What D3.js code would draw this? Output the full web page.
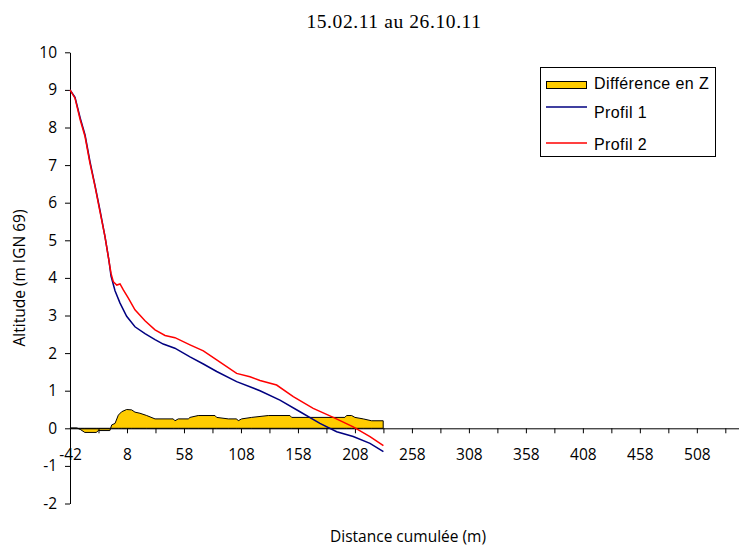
<!DOCTYPE html>
<html>
<head>
<meta charset="utf-8">
<script src="https://cdn.jsdelivr.net/npm/d3@7"></script>
<style>
  html, body { margin: 0; padding: 0; background: #fff; }
  svg { display: block; }
</style>
</head>
<body>
<svg id="chart" width="739" height="547"></svg>
<script>
// ---------- Data ----------
const chartTitle = "15.02.11 au 26.10.11";
const xAxisTitle = "Distance cumulée (m)";
const yAxisTitle = "Altitude (m IGN 69)";
const seriesNames = ["Différence en Z", "Profil 1", "Profil 2"];

const yTickValues = [-2, -1, 0, 1, 2, 3, 4, 5, 6, 7, 8, 9, 10];
const xTickLabels = [-42, 8, 58, 108, 158, 208, 258, 308, 358, 408, 458, 508];

// Profil 1 (blue)
const profil1Dist = [-42, -37.6, -33, -28.8, -24.5, -20, -15.7, -11.3, -8, -6, -2.5, 1.9, 7.7, 15, 23.8, 32.6, 39.8, 50, 63.3, 75, 86.7, 104.2, 124.7, 142.2, 159.8, 177.3, 192, 206.5, 221.2, 233];
const profil1Z    = [9.0, 8.8, 8.25, 7.8, 7.1, 6.45, 5.8, 5.1, 4.5, 4.05, 3.66, 3.33, 2.98, 2.7, 2.52, 2.36, 2.24, 2.13, 1.9, 1.71, 1.51, 1.24, 1.0, 0.75, 0.44, 0.13, -0.09, -0.22, -0.4, -0.62];

// Profil 2 (red)
const profil2Dist = [-42, -37.6, -33, -28.8, -24.5, -20, -15.7, -11.3, -8.4, -6, -4, -1, 1.9, 4.8, 9.2, 15, 23.8, 32.6, 41.4, 50.1, 63.3, 75, 86.7, 104.2, 115.9, 124.7, 139.3, 153.9, 171.4, 189, 206.5, 221.2, 233];
const profil2Z    = [9.0, 8.78, 8.2, 7.76, 7.05, 6.43, 5.76, 5.1, 4.56, 4.12, 3.9, 3.81, 3.84, 3.68, 3.46, 3.15, 2.86, 2.62, 2.47, 2.41, 2.22, 2.06, 1.82, 1.46, 1.37, 1.27, 1.15, 0.84, 0.53, 0.29, 0.04, -0.22, -0.46];

// Différence en Z (yellow area)
const diffDist = [-42, -36, -33, -29, -19, -17, -7, -5.4, -2.5, 0.4, 3.3, 7.7, 12.1, 15, 19.4, 25.3, 32.6, 48.6, 50.1, 53, 61.8, 63.3, 70.5, 85.2, 86.7, 96.9, 104.2, 105.6, 108.6, 117.4, 132, 151, 152.5, 199.2, 200.7, 205.1, 208, 215.3, 222.6, 232.8];
const diffZ    = [0.01, 0.01, -0.03, -0.11, -0.11, -0.06, -0.06, 0.09, 0.13, 0.35, 0.44, 0.5, 0.49, 0.43, 0.4, 0.34, 0.25, 0.25, 0.2, 0.25, 0.25, 0.29, 0.34, 0.34, 0.29, 0.25, 0.25, 0.2, 0.25, 0.29, 0.34, 0.34, 0.29, 0.29, 0.34, 0.34, 0.29, 0.25, 0.2, 0.2];

const colors = { diff: "#FFCC00", p1: "#000080", p2: "#FF0000" };

// ---------- Build ----------
const zip = (a, b) => a.map((d, i) => ({ d: d, z: b[i] }));
const p1 = zip(profil1Dist, profil1Z);
const p2 = zip(profil2Dist, profil2Z);
const diff = zip(diffDist, diffZ);

const svg = d3.select("#chart");
const x = d3.scaleLinear().domain([-42, 545]).range([70, 739]);
const y = d3.scaleLinear().domain([-2, 10]).range([503.5, 52.3]);

const tickFont = "'Open Sans', sans-serif";

// Title
svg.append("text")
  .attr("x", 394).attr("y", 27.5)
  .attr("text-anchor", "middle")
  .style("font-family", "'Liberation Serif', 'Times New Roman', serif")
  .style("font-size", "19.5px")
  .style("letter-spacing", "0.6px")
  .text(chartTitle);

// Area (difference)
const area = d3.area()
  .x(d => x(d.d))
  .y0(y(0))
  .y1(d => y(d.z));
svg.append("path")
  .datum(diff)
  .attr("d", area)
  .attr("fill", colors.diff)
  .attr("stroke", "#000")
  .attr("stroke-width", 1);

// Y axis
const yAxis = d3.axisLeft(y)
  .tickValues(yTickValues)
  .tickSize(5).tickSizeOuter(0).tickPadding(8)
  .tickFormat(d => String(d));
const gy = svg.append("g").attr("transform", "translate(70,0)").call(yAxis);
gy.selectAll("text").style("font-family", tickFont).style("font-size", "15.5px").attr("fill", "#000");

// X axis
const xTicks = d3.range(-42, 545, 25);
const xAxis = d3.axisBottom(x)
  .tickValues(xTicks)
  .tickSize(5).tickSizeOuter(0).tickPadding(16)
  .tickFormat(d => xTickLabels.includes(d) ? String(d) : "");
const gx = svg.append("g").attr("transform", `translate(0,${y(0)})`).call(xAxis);
gx.selectAll("text").style("font-family", tickFont).style("font-size", "15.5px").attr("fill", "#000");

[gx, gy].forEach(g => {
  g.select(".domain").attr("stroke", "#000");
  g.selectAll(".tick line").attr("stroke", "#000");
});

// Lines
const line = d3.line().x(d => x(d.d)).y(d => y(d.z));
svg.append("path").datum(p1).attr("d", line)
  .attr("fill", "none").attr("stroke", colors.p1).attr("stroke-width", 1.5);
svg.append("path").datum(p2).attr("d", line)
  .attr("fill", "none").attr("stroke", colors.p2).attr("stroke-width", 1.5);

// Axis titles
svg.append("text")
  .attr("x", 408).attr("y", 541.5)
  .attr("text-anchor", "middle")
  .style("font-family", tickFont).style("font-size", "15.5px")
  .text(xAxisTitle);
svg.append("text")
  .attr("transform", "translate(25,278) rotate(-90)")
  .attr("text-anchor", "middle")
  .style("font-family", tickFont).style("font-size", "15.5px")
  .text(yAxisTitle);

// Legend
const lg = svg.append("g");
lg.append("rect").attr("x", 540.5).attr("y", 67.5).attr("width", 175).attr("height", 89)
  .attr("fill", "#fff").attr("stroke", "#000");
lg.append("rect").attr("x", 546.5).attr("y", 81.5).attr("width", 40).attr("height", 7)
  .attr("fill", colors.diff).attr("stroke", "#000");
lg.append("line").attr("x1", 546).attr("x2", 587).attr("y1", 107).attr("y2", 107)
  .attr("stroke", colors.p1).attr("stroke-width", 1.5);
lg.append("line").attr("x1", 546).attr("x2", 587).attr("y1", 143).attr("y2", 143)
  .attr("stroke", colors.p2).attr("stroke-width", 1.5);
const legendBaselines = [88.5, 118, 150];
seriesNames.forEach((n, i) => {
  lg.append("text").attr("x", 594).attr("y", legendBaselines[i])
    .style("font-family", "'Liberation Sans', Arial, sans-serif")
    .style("font-size", "16px")
    .style("letter-spacing", "0.4px")
    .text(n);
});
</script>
</body>
</html>
